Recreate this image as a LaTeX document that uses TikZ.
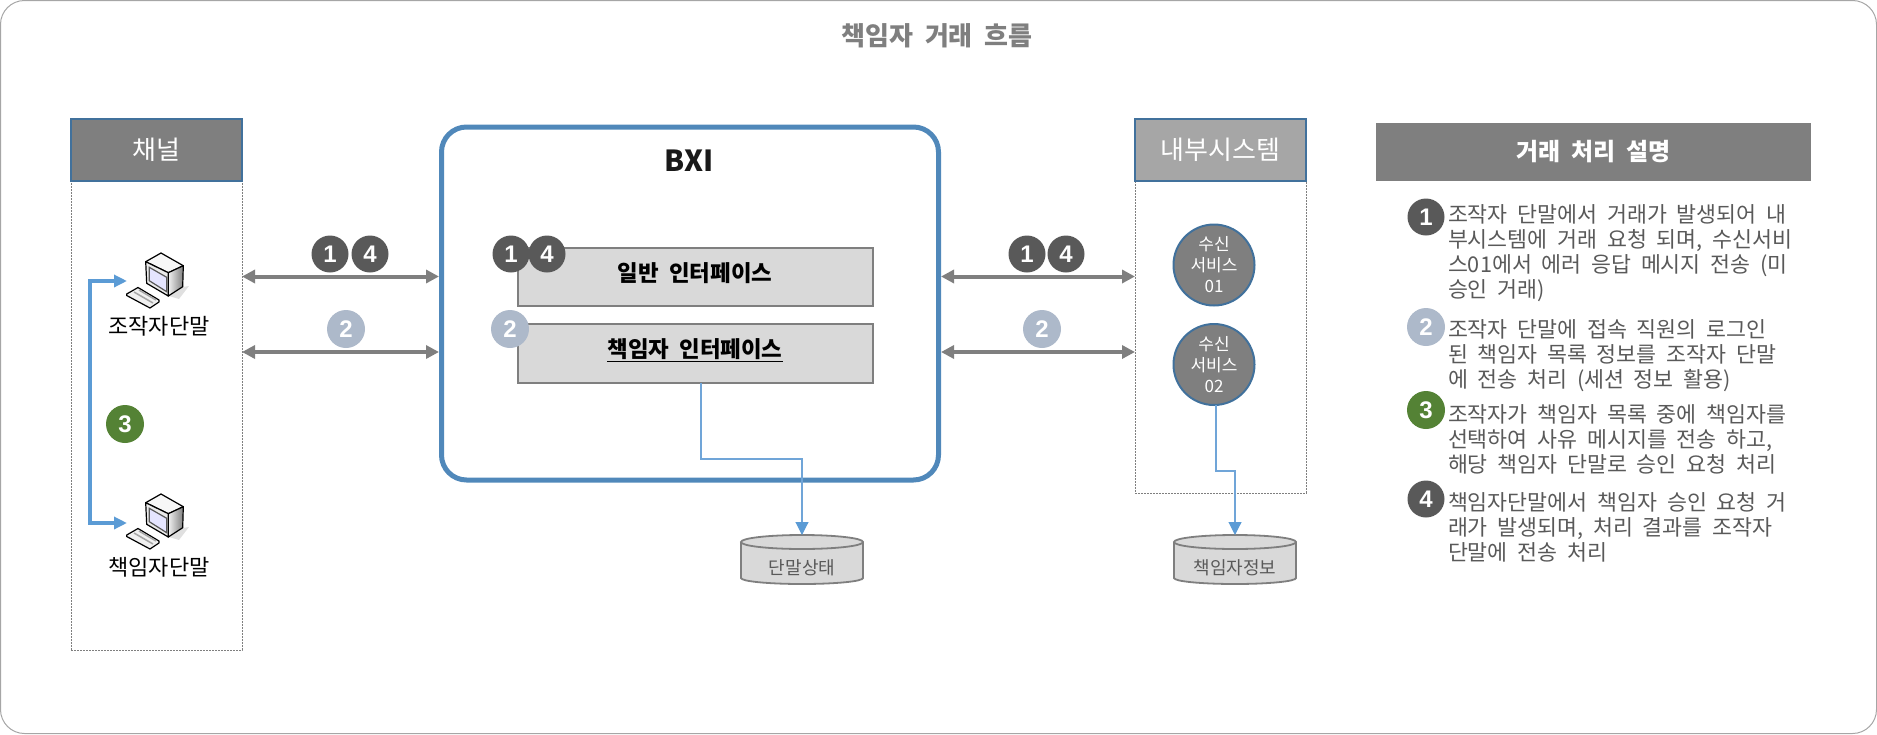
\documentclass[tikz,border=0pt]{standalone}
\usepackage{fontspec}
\setmainfont[WordSpace=2]{Noto Sans CJK KR}
\newfontfamily\digitfont{Liberation Sans}
\usetikzlibrary{arrows.meta,calc}
\definecolor{hdrdark}{HTML}{7F7F7F}
\definecolor{hdrlight}{HTML}{A6A6A6}
\definecolor{hdrline}{HTML}{41719C}
\definecolor{bxiline}{HTML}{5088BA}
\definecolor{linkblue}{HTML}{5B9BD5}
\definecolor{thinblue}{HTML}{70A5D8}
\definecolor{boxfill}{HTML}{D9D9D9}
\definecolor{darkbadge}{HTML}{595959}
\definecolor{lightbadge}{HTML}{ADB9CA}
\definecolor{greenbadge}{HTML}{548235}
\definecolor{bodytext}{HTML}{595959}
\newcommand{\fs}[2]{\fontsize{#1}{#2}\selectfont}
\newcommand{\dbshape}[1]{%
  \path[draw=hdrdark,line width=1.8pt,fill=boxfill]
    ($(#1.north west)+(0,7)$) -- ($(#1.south west)+(0,-6)$)
    arc[start angle=180,end angle=360,x radius=61pt,y radius=6pt]
    -- ($(#1.north east)+(0,7)$)
    arc[start angle=0,end angle=180,x radius=61pt,y radius=7pt]
    arc[start angle=180,end angle=360,x radius=61pt,y radius=7pt];}
\tikzset{
  x=1pt,y=-1pt,
  every node/.style={inner sep=0pt,outer sep=0pt},
  hdr/.style={draw=hdrline,line width=2pt,text=white,node font=\fs{26}{30},minimum width=171pt,minimum height=62pt},
  dashbox/.style={draw=hdrdark,dash pattern=on 2pt off 1pt,line width=.9pt,minimum width=171pt},
  ifbox/.style={draw=hdrdark,fill=boxfill,line width=1.8pt,minimum width=355pt,minimum height=58pt},
  iflabel/.style={node font=\bfseries\fs{22.4}{26}},
  badge/.style={circle,minimum size=37pt,text=white,node font=\digitfont\bfseries\fs{24}{28}},
  bdark/.style={badge,fill=darkbadge},
  blight/.style={badge,fill=lightbadge,minimum size=38pt},
  bgreen/.style={badge,fill=greenbadge,minimum size=38pt},
  svc/.style={circle,draw=hdrline,fill=hdrdark,line width=2pt,minimum size=81pt,text=white,align=center,node font=\fs{17}{21}},
  dbs/.style={minimum width=122pt,minimum height=49pt},
  dbtext/.style={text=bodytext,node font=\fs{18}{22}},
  biarrow/.style={draw=hdrdark,line width=4pt,{Triangle[length=13pt,width=13pt]}-{Triangle[length=13pt,width=13pt]}},
  bluearrow/.style={draw=linkblue,line width=4pt,{Triangle[length=13pt,width=12pt]}-{Triangle[length=13pt,width=12pt]}},
  thinarrow/.style={draw=thinblue,line width=1.1pt,-{Triangle[length=13pt,width=13pt,color=linkblue]}},
  desc/.style={anchor=north west,align=left,text=bodytext,node font=\fs{21.7}{25}},
  pcname/.style={text=black,node font=\fs{22}{26}},
  pics/computer/.style={code={
    \fill[black!12] (8,43) -- (22,34) -- (28,33) -- (18,46) -- cycle;
    \path[draw=black,line width=1.2pt,fill=black!6,line join=round] (-23,34.5) -- (-2,47) -- (-2,49) -- (-11,55) -- (-34.3,42.5) -- (-34.3,41) -- cycle;
    \draw[black!35,line width=1.5pt] (-27,39) -- (-8,50);
    \draw[black!35,line width=1.5pt] (-22,37) -- (-5,47);
    \path[draw=black,line width=1.2pt,fill=black!3,line join=round] (0,0) -- (22.3,12.7) -- (7.3,19.7) -- (-15.3,8.7) -- cycle;
    \path[left color=black!6,right color=black!50,draw=black,line width=1.2pt,line join=round] (7.3,19.7) -- (22.3,12.7) -- (21.7,33.7) -- (7.3,43) -- cycle;
    \path[draw=black,line width=1.2pt,fill=black!8,line join=round] (-15.3,8.7) -- (7.3,19.7) -- (7.3,43) -- (-14.3,30.3) -- cycle;
    \path[draw=black!65,line width=1.2pt,fill=blue!10!white] (-11.7,14.3) -- (5.7,24.3) -- (5.7,38.7) -- (-11.7,27.7) -- cycle;
  }}
}
\begin{document}
\begin{tikzpicture}
\useasboundingbox (0,0) rectangle (1877,734);
\draw[draw=black!35,line width=1pt,rounded corners=24pt] (.5,.5) rectangle (1876.5,733.5);

\node[text=hdrdark,node font=\bfseries\fs{26}{30}] (title) at (937,36) {책임자 거래 흐름};

% channel column
\node[dashbox,minimum height=469pt] (chanbox) at (156.5,415.5) {};
\node[hdr,fill=hdrdark] (chanhdr) at (156.5,149.5) {채널};
\pic at (161,253) {computer};
\pic at (161,494) {computer};
\node[pcname] (pc1) at (159,326) {조작자단말};
\node[pcname] (pc2) at (159,567) {책임자단말};
\coordinate (t1) at (127,281);
\coordinate (t2) at (127,523);
\coordinate (tm) at (90,402);
\draw[bluearrow] (t1) -| (tm) |- (t2);
\node[bgreen] (b3) at (125,424) {3};

% BXI
\node[draw=bxiline,line width=5pt,rounded corners=25pt,minimum width=497pt,minimum height=353pt] (bxi) at (690,303.5) {};
\node[node font=\bfseries\fs{29}{34},text=black!90] (bxit) at (689.5,161) {BXI};
\node[ifbox] (if1) at (695.5,277) {};
\node[ifbox,minimum height=59pt] (if2) at (695.5,353.5) {};
\node[iflabel] (if1t) at (695,273) {일반 인터페이스};
\node[iflabel] (if2t) at (695,350) {\underline{책임자 인터페이스}};
\node[bdark] (i1) at (511,254) {1};
\node[bdark] (i4) at (547,254) {4};
\node[blight] (i2) at (510,329) {2};

% link rows
\coordinate (r1) at (0,276.5);
\coordinate (r2) at (0,352);

% internal system
\node[dashbox,minimum height=312pt] (sysbox) at (1220.5,337) {};
\node[hdr,fill=hdrlight] (syshdr) at (1220.5,149.5) {내부시스템};
\node[svc] (s1) at (1214,265) {수신\\서비스\\01};
\node[svc] (s2) at (1214,364.5) {수신\\서비스\\02};

% databases
\node[dbs] (db1) at (802,559.5) {};
\dbshape{db1}
\node[dbtext] (db1t) at (802,568) {단말상태};
\node[dbs] (db2) at (1235,559.5) {};
\dbshape{db2}
\node[dbtext] (db2t) at (1235,568) {책임자정보};

% links
\draw[biarrow,shorten >=2.5pt] (chanbox.east |- r1) -- (bxi.west |- r1);
\draw[biarrow,shorten >=2.5pt] (chanbox.east |- r2) -- (bxi.west |- r2);
\draw[biarrow,shorten <=2.5pt] (bxi.east |- r1) -- (sysbox.west |- r1);
\draw[biarrow,shorten <=2.5pt] (bxi.east |- r2) -- (sysbox.west |- r2);
\node[bdark] (a1) at (330,254) {1};
\node[bdark] (a4) at (370,254) {4};
\node[blight] (a2) at (346,329) {2};
\node[bdark] (c1) at (1027,254) {1};
\node[bdark] (c4) at (1066,254) {4};
\node[blight] (c2) at (1042,329) {2};

\coordinate (j1) at (701,459);
\coordinate (j2) at (1216,471);
\draw[thinarrow] (if2.south -| j1) -- (j1) -| (db1.north);
\draw[thinarrow] (s2.south -| j2) -- (j2) -| (db2.north);

% description panel
\node[fill=hdrdark,text=white,minimum width=435pt,minimum height=58pt,node font=\bfseries\fs{24}{28}] (panel) at (1593.5,152) {거래 처리 설명};
\node[bdark] (d1) at (1426,217) {1};
\node[blight] (d2) at (1426,327) {2};
\node[bgreen] (d3) at (1426,410) {3};
\node[bdark] (d4) at (1426,499) {4};
\node[desc] (e1) at (1448,205) {조작자 단말에서 거래가 발생되어 내\\부시스템에 거래 요청 되며, 수신서비\\스01에서 에러 응답 메시지 전송 (미\\승인 거래)};
\node[desc] (e2) at (1448,320) {조작자 단말에 접속 직원의 로그인\\된 책임자 목록 정보를 조작자 단말\\에 전송 처리 (세션 정보 활용)};
\node[desc] (e3) at (1448,405) {조작자가 책임자 목록 중에 책임자를\\선택하여 사유 메시지를 전송 하고,\\해당 책임자 단말로 승인 요청 처리};
\node[desc] (e4) at (1448,492) {책임자단말에서 책임자 승인 요청 거\\래가 발생되며, 처리 결과를 조작자\\단말에 전송 처리};
\end{tikzpicture}
\end{document}
